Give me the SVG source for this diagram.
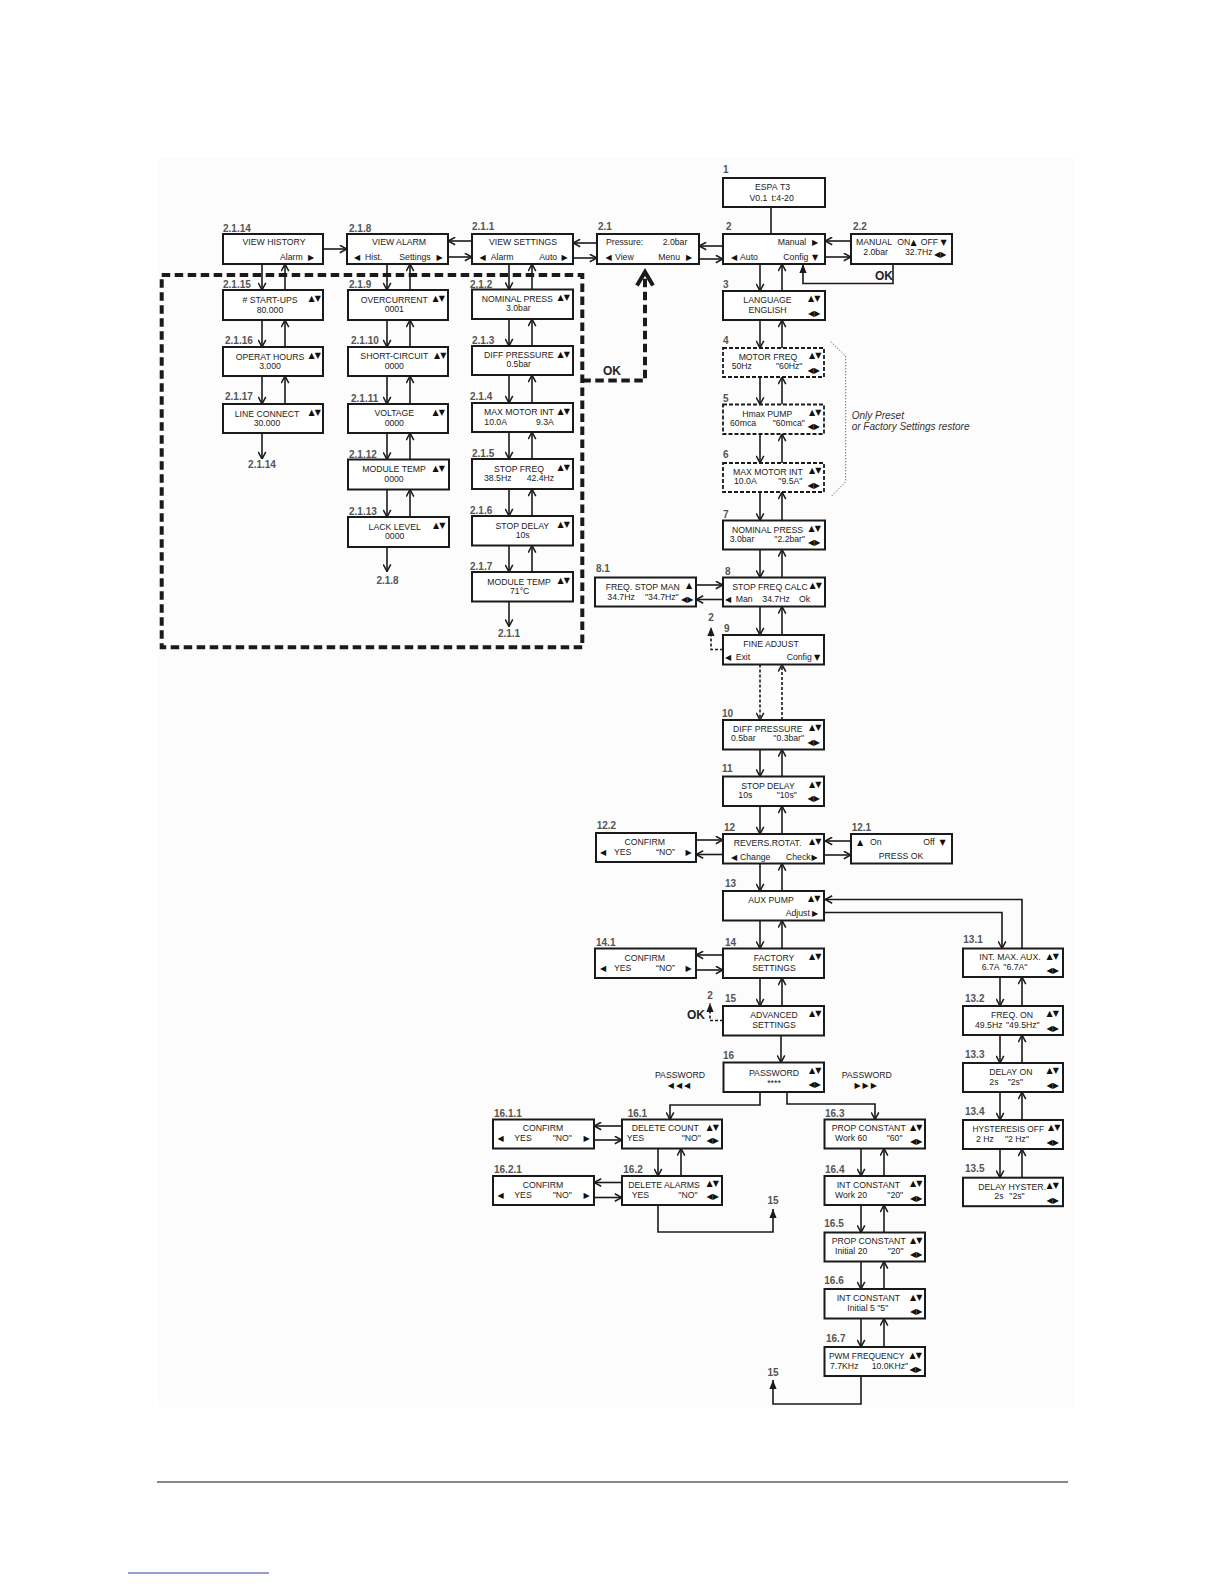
<svg xmlns="http://www.w3.org/2000/svg" width="1224" height="1584" viewBox="0 0 1224 1584">
<defs>
<style>
.t{font-family:"Liberation Sans",Arial,sans-serif;font-size:8.7px;fill:#222}
.m{text-anchor:middle}
.s{font-family:"DejaVu Sans",sans-serif;font-size:8px;fill:#111}
.p{font-family:"DejaVu Sans",sans-serif;font-size:8px;fill:#111}
.lb{font-family:"Liberation Sans",Arial,sans-serif;font-size:10px;font-weight:bold;fill:#555}
.ok{font-family:"Liberation Sans",Arial,sans-serif;font-size:12px;font-weight:bold;fill:#222}
.it{font-family:"Liberation Sans",Arial,sans-serif;font-size:10px;font-style:italic;fill:#333}
.b{fill:#fff;stroke:#1a1a1a;stroke-width:2}
.bd{fill:#fff;stroke:#1a1a1a;stroke-width:1.8;stroke-dasharray:4 2}
.c{fill:none;stroke:#1a1a1a;stroke-width:1.6}
.a{marker-end:url(#arr)}
.f{marker-end:url(#tri)}
.dl{stroke-dasharray:3 2}
.thick{fill:none;stroke:#1a1a1a;stroke-width:4;stroke-dasharray:8.5 4.5}
</style>
<marker id="arr" viewBox="0 0 10 10" refX="9.5" refY="5" markerWidth="9" markerHeight="9" markerUnits="userSpaceOnUse" orient="auto">
<path d="M1.5,0.8 L9.5,5 L1.5,9.2" fill="none" stroke="#1a1a1a" stroke-width="1.7"/>
</marker>
<marker id="tri" viewBox="0 0 10 8" refX="10" refY="4" markerWidth="9" markerHeight="7.2" markerUnits="userSpaceOnUse" orient="auto">
<path d="M0,0 L10,4 L0,8 Z" fill="#1a1a1a"/>
</marker>
</defs>
<rect x="159" y="158" width="915" height="1249" fill="#fcfcfc"/>
<line x1="157" y1="1482" x2="1068" y2="1482" stroke="#111" stroke-width="1.2"/>
<line x1="128" y1="1573" x2="269" y2="1573" stroke="#2a3caa" stroke-width="1.2"/>

<g id="frame">
<rect class="thick" x="161.7" y="275" width="420.6" height="372.3"/>
</g>

<g id="connectors">
<line class="c a" x1="323" y1="249" x2="347" y2="249"/>
<line class="c a" x1="472" y1="241" x2="448" y2="241"/>
<line class="c a" x1="448" y1="257" x2="472" y2="257"/>
<line class="c a" x1="597" y1="243" x2="573" y2="243"/>
<line class="c a" x1="573" y1="258" x2="597" y2="258"/>
<line class="c a" x1="723" y1="246" x2="699" y2="246"/>
<line class="c a" x1="699" y1="259" x2="723" y2="259"/>
<line class="c a" x1="851" y1="241" x2="825" y2="241"/>
<line class="c a" x1="825" y1="257" x2="851" y2="257"/>
<line class="c" x1="771" y1="207" x2="771" y2="234"/>
<polyline class="c f" points="893,264 893,283.5 803,283.5 803,264"/>
<polyline class="thick" points="582.3,380.5 645,380.5 645,272"/>
<polyline fill="none" stroke="#1a1a1a" stroke-width="4" points="637,285.5 645,272 653,285.5"/>

<line class="c a" x1="262" y1="264" x2="262" y2="290"/>
<line class="c a" x1="285" y1="290" x2="285" y2="264"/>
<line class="c a" x1="262" y1="320" x2="262" y2="347"/>
<line class="c a" x1="285" y1="347" x2="285" y2="320"/>
<line class="c a" x1="262" y1="376" x2="262" y2="404"/>
<line class="c a" x1="285" y1="404" x2="285" y2="376"/>
<line class="c a" x1="262" y1="433" x2="262" y2="459"/>

<line class="c a" x1="387" y1="264" x2="387" y2="290"/>
<line class="c a" x1="410" y1="290" x2="410" y2="264"/>
<line class="c a" x1="387" y1="320" x2="387" y2="347"/>
<line class="c a" x1="410" y1="347" x2="410" y2="320"/>
<line class="c a" x1="387" y1="376" x2="387" y2="404"/>
<line class="c a" x1="410" y1="404" x2="410" y2="376"/>
<line class="c a" x1="387" y1="433" x2="387" y2="459.5"/>
<line class="c a" x1="410" y1="459.5" x2="410" y2="433"/>
<line class="c a" x1="387" y1="489.5" x2="387" y2="517"/>
<line class="c a" x1="410" y1="517" x2="410" y2="489.5"/>
<line class="c a" x1="387" y1="547" x2="387" y2="571.5"/>

<line class="c a" x1="509" y1="264" x2="509" y2="289.5"/>
<line class="c a" x1="532" y1="289.5" x2="532" y2="264"/>
<line class="c a" x1="509" y1="319" x2="509" y2="346"/>
<line class="c a" x1="532" y1="346" x2="532" y2="319"/>
<line class="c a" x1="509" y1="375" x2="509" y2="403"/>
<line class="c a" x1="532" y1="403" x2="532" y2="375"/>
<line class="c a" x1="509" y1="432" x2="509" y2="459"/>
<line class="c a" x1="532" y1="459" x2="532" y2="432"/>
<line class="c a" x1="509" y1="489" x2="509" y2="516"/>
<line class="c a" x1="532" y1="516" x2="532" y2="489"/>
<line class="c a" x1="509" y1="545.5" x2="509" y2="572"/>
<line class="c a" x1="532" y1="572" x2="532" y2="545.5"/>
<line class="c a" x1="509" y1="601.5" x2="509" y2="626.5"/>

<line class="c a" x1="760" y1="264" x2="760" y2="291"/>
<line class="c a" x1="782" y1="291" x2="782" y2="264"/>
<line class="c a" x1="760" y1="320" x2="760" y2="348"/>
<line class="c a" x1="782" y1="348" x2="782" y2="320"/>
<line class="c a" x1="760" y1="377" x2="760" y2="404.5"/>
<line class="c a" x1="782" y1="404.5" x2="782" y2="377"/>
<line class="c a" x1="760" y1="434" x2="760" y2="463"/>
<line class="c a" x1="782" y1="463" x2="782" y2="434"/>
<line class="c a" x1="760" y1="492" x2="760" y2="520.5"/>
<line class="c a" x1="782" y1="520.5" x2="782" y2="492"/>
<line class="c a" x1="760" y1="549.5" x2="760" y2="577.5"/>
<line class="c a" x1="782" y1="577.5" x2="782" y2="549.5"/>
<line class="c a" x1="760" y1="606.5" x2="760" y2="635"/>
<line class="c a" x1="782" y1="635" x2="782" y2="606.5"/>
<line class="c a dl" x1="760" y1="664.5" x2="760" y2="720"/>
<line class="c a dl" x1="782" y1="720" x2="782" y2="664.5"/>
<line class="c a" x1="760" y1="749.5" x2="760" y2="776.5"/>
<line class="c a" x1="782" y1="776.5" x2="782" y2="749.5"/>
<line class="c a" x1="760" y1="806" x2="760" y2="834"/>
<line class="c a" x1="782" y1="834" x2="782" y2="806"/>
<line class="c a" x1="760" y1="863.5" x2="760" y2="891"/>
<line class="c a" x1="782" y1="891" x2="782" y2="863.5"/>
<line class="c a" x1="760" y1="920.5" x2="760" y2="948.5"/>
<line class="c a" x1="782" y1="948.5" x2="782" y2="920.5"/>
<line class="c a" x1="760" y1="978" x2="760" y2="1006"/>
<line class="c a" x1="782" y1="1006" x2="782" y2="978"/>
<line class="c a" x1="781" y1="1035.5" x2="781" y2="1062.5"/>

<line class="c a" x1="696" y1="585" x2="723" y2="585"/>
<line class="c a" x1="723" y1="599.5" x2="696" y2="599.5"/>
<polyline class="c f dl" points="723,649.5 711,649.5 711,627"/>
<line class="c a" x1="696" y1="840" x2="723" y2="840"/>
<line class="c a" x1="723" y1="854.5" x2="696" y2="854.5"/>
<line class="c a" x1="851" y1="841" x2="825" y2="841"/>
<line class="c a" x1="825" y1="855" x2="851" y2="855"/>
<line class="c a" x1="723" y1="955" x2="696" y2="955"/>
<line class="c a" x1="696" y1="970" x2="723" y2="970"/>
<polyline class="c f dl" points="723,1020.5 710,1020.5 710,1003"/>

<polyline class="c a" points="1022,948.5 1022,899.5 825,899.5"/>
<polyline class="c a" points="825,912.5 1002,912.5 1002,948.5"/>
<line class="c a" x1="1000" y1="977" x2="1000" y2="1006"/>
<line class="c a" x1="1022" y1="1006" x2="1022" y2="977"/>
<line class="c a" x1="1000" y1="1035" x2="1000" y2="1063"/>
<line class="c a" x1="1022" y1="1063" x2="1022" y2="1035"/>
<line class="c a" x1="1000" y1="1092" x2="1000" y2="1120"/>
<line class="c a" x1="1022" y1="1120" x2="1022" y2="1092"/>
<line class="c a" x1="1000" y1="1149" x2="1000" y2="1177.7"/>
<line class="c a" x1="1022" y1="1177.7" x2="1022" y2="1149"/>

<polyline class="c a" points="760,1092 760,1105 670,1105 670,1119.5"/>
<polyline class="c a" points="787,1092 787,1104 875,1104 875,1119.5"/>
<line class="c a" x1="622" y1="1126" x2="594" y2="1126"/>
<line class="c a" x1="594" y1="1140" x2="622" y2="1140"/>
<line class="c a" x1="622" y1="1182.5" x2="594" y2="1182.5"/>
<line class="c a" x1="594" y1="1197.5" x2="622" y2="1197.5"/>
<line class="c a" x1="658" y1="1148.5" x2="658" y2="1176"/>
<line class="c a" x1="681" y1="1176" x2="681" y2="1148.5"/>
<polyline class="c f" points="658,1205 658,1232 773,1232 773,1209"/>
<line class="c a" x1="861" y1="1148.5" x2="861" y2="1176"/>
<line class="c a" x1="884" y1="1176" x2="884" y2="1148.5"/>
<line class="c a" x1="861" y1="1205" x2="861" y2="1232.5"/>
<line class="c a" x1="884" y1="1232.5" x2="884" y2="1205"/>
<line class="c a" x1="861" y1="1261.5" x2="861" y2="1289"/>
<line class="c a" x1="884" y1="1289" x2="884" y2="1261.5"/>
<line class="c a" x1="861" y1="1318.5" x2="861" y2="1347"/>
<line class="c a" x1="884" y1="1347" x2="884" y2="1318.5"/>
<polyline class="c f" points="861,1376 861,1404 773,1404 773,1380"/>
<polyline fill="none" stroke="#333" stroke-width="1" stroke-dasharray="1 2" points="830.7,341.7 845.7,356 845.7,481.7 831.7,496"/>
</g>

<g id="notes">
<text class="ok" x="875" y="279.5">OK</text>
<text class="ok" x="603" y="375">OK</text>
<text class="ok" x="687" y="1019">OK</text>
<text class="it" x="851.7" y="419.3">Only Preset</text>
<text class="it" x="851.7" y="430">or Factory Settings restore</text>
<text class="lb" x="262" y="467.5" text-anchor="middle">2.1.14</text>
<text class="lb" x="387.5" y="584" text-anchor="middle">2.1.8</text>
<text class="lb" x="509" y="637" text-anchor="middle">2.1.1</text>
<text class="lb" x="711" y="621" text-anchor="middle">2</text>
<text class="lb" x="710" y="999" text-anchor="middle">2</text>
<text class="lb" x="773" y="1204" text-anchor="middle">15</text>
<text class="lb" x="773" y="1375.5" text-anchor="middle">15</text>
<text class="t m" x="680" y="1077.5">PASSWORD</text>
<text class="p m" x="680" y="1088" letter-spacing="2">◀◀◀</text>
<text class="t m" x="866.7" y="1077.5">PASSWORD</text>
<text class="p m" x="866.7" y="1088" letter-spacing="2">▶▶▶</text>
</g>

<g id="n1"><text class="lb" x="723" y="172.5">1</text><rect class="b" x="723" y="178" width="102" height="29"/>
<text class="t" x="755" y="190">ESPA</text><text class="t" x="780" y="190">T3</text>
<text class="t" x="749.5" y="200.5">V0.1</text><text class="t" x="771.5" y="200.5">t:4-20</text></g>

<g id="n2-1-14"><text class="lb" x="223" y="232">2.1.14</text><rect class="b" x="223" y="234" width="100" height="30"/>
<text class="t m" x="274" y="245">VIEW HISTORY</text><text class="t" x="280" y="259.5">Alarm</text><text class="p" x="308" y="259.5">▶</text></g>

<g id="n2-1-8"><text class="lb" x="349" y="232">2.1.8</text><rect class="b" x="347" y="234" width="101" height="30"/>
<text class="t m" x="399" y="245">VIEW ALARM</text><text class="p" x="354" y="259.5">◀</text><text class="t" x="365" y="259.5">Hist.</text><text class="t" x="399.3" y="259.5">Settings</text><text class="p" x="436.5" y="259.5">▶</text></g>

<g id="n2-1-1"><text class="lb" x="472" y="229.5">2.1.1</text><rect class="b" x="472" y="234" width="101" height="30"/>
<text class="t m" x="523" y="245">VIEW SETTINGS</text><text class="p" x="479.5" y="259.5">◀</text><text class="t" x="490.7" y="259.5">Alarm</text><text class="t" x="539.3" y="259.5">Auto</text><text class="p" x="561.5" y="259.5">▶</text></g>

<g id="n2-1"><text class="lb" x="598" y="229.5">2.1</text><rect class="b" x="597" y="234" width="102" height="30"/>
<text class="t" x="606" y="244.5">Pressure:</text><text class="t" x="662.7" y="244.5">2.0bar</text>
<text class="p" x="605.5" y="259.5">◀</text><text class="t" x="615" y="259.5">View</text><text class="t" x="658.3" y="259.5">Menu</text><text class="p" x="686" y="259.5">▶</text></g>

<g id="n2"><text class="lb" x="726" y="229.5">2</text><rect class="b" x="723" y="234" width="102" height="30"/>
<text class="t" x="777.7" y="244.5">Manual</text><text class="p" x="812" y="244.5">▶</text>
<text class="p" x="731" y="259.5">◀</text><text class="t" x="740" y="259.5">Auto</text><text class="t" x="783.3" y="259.5">Config</text><text class="s" x="812" y="259.5">▼</text></g>

<g id="n2-2"><text class="lb" x="853" y="229.5">2.2</text><rect class="b" x="851" y="234" width="101" height="30"/>
<text class="t" x="856" y="244.5">MANUAL</text><text class="t" x="897.3" y="244.5">ON</text><text class="s" x="910.5" y="244.5">▲</text><text class="t" x="920.7" y="244.5">OFF</text><text class="s" x="940.5" y="244.5">▼</text>
<text class="t" x="863.3" y="255">2.0bar</text><text class="t" x="905" y="255">32.7Hz</text><text class="p" x="934" y="256.5">◀▶</text></g>

<g id="n2-1-15"><text class="lb" x="223" y="288">2.1.15</text><rect class="b" x="223" y="290" width="100" height="30"/>
<text class="t m" x="270" y="303">&#35; START-UPS</text><text class="s" x="308.5" y="301">▲▼</text><text class="t m" x="270" y="312.5">80.000</text></g>

<g id="n2-1-16"><text class="lb" x="225" y="344">2.1.16</text><rect class="b" x="223" y="347" width="100" height="29"/>
<text class="t m" x="270" y="359.5">OPERAT HOURS</text><text class="s" x="308.5" y="358">▲▼</text><text class="t m" x="270" y="369">3.000</text></g>

<g id="n2-1-17"><text class="lb" x="225" y="399.5">2.1.17</text><rect class="b" x="223" y="404" width="100" height="29"/>
<text class="t m" x="267" y="416.5">LINE CONNECT</text><text class="s" x="308.5" y="415">▲▼</text><text class="t m" x="267" y="426">30.000</text></g>

<g id="n2-1-9"><text class="lb" x="349" y="288">2.1.9</text><rect class="b" x="348" y="290" width="100" height="30"/>
<text class="t m" x="394.3" y="302.5">OVERCURRENT</text><text class="s" x="432.5" y="301">▲▼</text><text class="t m" x="394.3" y="312">0001</text></g>

<g id="n2-1-10"><text class="lb" x="351" y="344">2.1.10</text><rect class="b" x="348" y="347" width="100" height="29"/>
<text class="t m" x="394.3" y="359">SHORT-CIRCUIT</text><text class="s" x="434" y="358">▲▼</text><text class="t m" x="394.3" y="368.5">0000</text></g>

<g id="n2-1-11"><text class="lb" x="351" y="401.5">2.1.11</text><rect class="b" x="348" y="404" width="100" height="29"/>
<text class="t m" x="394.3" y="416">VOLTAGE</text><text class="s" x="432.5" y="414.5">▲▼</text><text class="t m" x="394.3" y="425.5">0000</text></g>

<g id="n2-1-12"><text class="lb" x="349" y="457.5">2.1.12</text><rect class="b" x="348" y="459.5" width="101" height="30"/>
<text class="t m" x="394" y="472">MODULE TEMP</text><text class="s" x="432.5" y="470.5">▲▼</text><text class="t m" x="394" y="481.5">0000</text></g>

<g id="n2-1-13"><text class="lb" x="349" y="514.5">2.1.13</text><rect class="b" x="348" y="517" width="101" height="30"/>
<text class="t m" x="394.7" y="529.5">LACK LEVEL</text><text class="s" x="433" y="528">▲▼</text><text class="t m" x="394.7" y="539">0000</text></g>

<g id="n2-1-2"><text class="lb" x="470" y="288">2.1.2</text><rect class="b" x="472" y="289.5" width="101" height="29.5"/>
<text class="t m" x="517.3" y="301.5">NOMINAL PRESS</text><text class="s" x="557.5" y="300">▲▼</text><text class="t m" x="518.3" y="310.7">3.0bar</text></g>

<g id="n2-1-3"><text class="lb" x="472" y="344">2.1.3</text><rect class="b" x="472" y="346" width="101" height="29"/>
<text class="t m" x="518.7" y="358">DIFF PRESSURE</text><text class="s" x="557.5" y="356.5">▲▼</text><text class="t m" x="518.7" y="367.3">0.5bar</text></g>

<g id="n2-1-4"><text class="lb" x="470" y="399.5">2.1.4</text><rect class="b" x="472" y="403" width="101" height="29"/>
<text class="t m" x="519" y="415">MAX MOTOR INT</text><text class="s" x="557.5" y="413.5">▲▼</text><text class="t" x="484.3" y="424.5">10.0A</text><text class="t" x="536" y="424.5">9.3A</text></g>

<g id="n2-1-5"><text class="lb" x="472" y="457.3">2.1.5</text><rect class="b" x="472" y="459" width="101" height="30"/>
<text class="t m" x="519" y="471.5">STOP FREQ</text><text class="s" x="557.5" y="470">▲▼</text><text class="t" x="484" y="481">38.5Hz</text><text class="t" x="526.7" y="481">42.4Hz</text></g>

<g id="n2-1-6"><text class="lb" x="470" y="514">2.1.6</text><rect class="b" x="472" y="516" width="101" height="29.5"/>
<text class="t m" x="522.3" y="528.5">STOP DELAY</text><text class="s" x="557.5" y="527">▲▼</text><text class="t m" x="522.7" y="538">10s</text></g>

<g id="n2-1-7"><text class="lb" x="470" y="569.7">2.1.7</text><rect class="b" x="472" y="572" width="101" height="29.5"/>
<text class="t m" x="519" y="584.5">MODULE TEMP</text><text class="s" x="557.5" y="583">▲▼</text><text class="t m" x="519.7" y="594">71°C</text></g>

<g id="n3"><text class="lb" x="723" y="287.7">3</text><rect class="b" x="723" y="291" width="102" height="29"/>
<text class="t m" x="767.5" y="303">LANGUAGE</text><text class="t m" x="767.5" y="312.5">ENGLISH</text><text class="s" x="808" y="301">▲▼</text><text class="p" x="808" y="315.5">◀▶</text></g>

<g id="n4"><text class="lb" x="723" y="344.3">4</text><rect class="bd" x="723" y="348" width="101" height="29"/>
<text class="t m" x="768" y="360">MOTOR FREQ</text><text class="t" x="731.7" y="369">50Hz</text><text class="t" x="776" y="369">"60Hz"</text><text class="s" x="809" y="358">▲▼</text><text class="p" x="807.5" y="372.5">◀▶</text></g>

<g id="n5"><text class="lb" x="723" y="401.7">5</text><rect class="bd" x="723" y="404.5" width="101" height="29.5"/>
<text class="t m" x="767.3" y="416.5">Hmax PUMP</text><text class="t" x="730" y="425.5">60mca</text><text class="t" x="772.7" y="425.5">"60mca"</text><text class="s" x="809" y="414.5">▲▼</text><text class="p" x="807.5" y="429">◀▶</text></g>

<g id="n6"><text class="lb" x="723" y="458.3">6</text><rect class="bd" x="723" y="463" width="101" height="29"/>
<text class="t m" x="768" y="475">MAX MOTOR INT</text><text class="t" x="734" y="484">10.0A</text><text class="t" x="778.3" y="484">"9.5A"</text><text class="s" x="809" y="473">▲▼</text><text class="p" x="807.5" y="487.5">◀▶</text></g>

<g id="n7"><text class="lb" x="723" y="517.5">7</text><rect class="b" x="723" y="520.5" width="102" height="29"/>
<text class="t m" x="767.5" y="532.5">NOMINAL PRESS</text><text class="t" x="729.7" y="541.5">3.0bar</text><text class="t" x="774.3" y="541.5">"2.2bar"</text><text class="s" x="808.5" y="530.5">▲▼</text><text class="p" x="808" y="545">◀▶</text></g>

<g id="n8"><text class="lb" x="725" y="575">8</text><rect class="b" x="723" y="577.5" width="102" height="29"/>
<text class="t m" x="770" y="589.5">STOP FREQ CALC</text><text class="s" x="809.5" y="588">▲▼</text>
<text class="p" x="725" y="601.5">◀</text><text class="t" x="735.7" y="601.5">Man</text><text class="t" x="762.3" y="601.5">34.7Hz</text><text class="t" x="799" y="601.5">Ok</text></g>

<g id="n8-1"><text class="lb" x="596" y="572.3">8.1</text><rect class="b" x="595" y="577.5" width="101" height="29"/>
<text class="t" x="605.7" y="589.5">FREQ. STOP MAN</text><text class="s" x="686" y="588">▲</text>
<text class="t" x="607.3" y="599.5">34.7Hz</text><text class="t" x="645" y="599.5">"34.7Hz"</text><text class="p" x="681" y="602">◀▶</text></g>

<g id="n9"><text class="lb" x="724" y="632.3">9</text><rect class="b" x="723" y="635" width="101" height="29.5"/>
<text class="t m" x="771" y="647">FINE ADJUST</text>
<text class="p" x="725" y="660">◀</text><text class="t" x="735.7" y="660">Exit</text><text class="t" x="786.7" y="660">Config</text><text class="s" x="814" y="660">▼</text></g>

<g id="n10"><text class="lb" x="722" y="717.3">10</text><rect class="b" x="723" y="720" width="101" height="29.5"/>
<text class="t m" x="767.7" y="732">DIFF PRESSURE</text><text class="t" x="731" y="741">0.5bar</text><text class="t" x="773.3" y="741">"0.3bar"</text><text class="s" x="809" y="730">▲▼</text><text class="p" x="807.5" y="744.5">◀▶</text></g>

<g id="n11"><text class="lb" x="722" y="772.3">11</text><rect class="b" x="723" y="776.5" width="101" height="29.5"/>
<text class="t m" x="768" y="788.5">STOP DELAY</text><text class="t" x="738.3" y="797.5">10s</text><text class="t" x="776.7" y="797.5">"10s"</text><text class="s" x="809" y="786.5">▲▼</text><text class="p" x="807.5" y="801">◀▶</text></g>

<g id="n12"><text class="lb" x="724" y="831.3">12</text><rect class="b" x="723" y="834" width="101" height="29.5"/>
<text class="t m" x="767.5" y="846">REVERS.ROTAT.</text><text class="s" x="809" y="844">▲▼</text>
<text class="p" x="731" y="859.5">◀</text><text class="t" x="740" y="859.5">Change</text><text class="t" x="786" y="859.5">Check</text><text class="p" x="811.5" y="859.5">▶</text></g>

<g id="n12-2"><text class="lb" x="596.7" y="829">12.2</text><rect class="b" x="596" y="833" width="100" height="29"/>
<text class="t m" x="644.7" y="845">CONFIRM</text><text class="p" x="600" y="855">◀</text><text class="t" x="614" y="855">YES</text><text class="t" x="656" y="855">“NO”</text><text class="p" x="685.5" y="855">▶</text></g>

<g id="n12-1"><text class="lb" x="851.7" y="830.7">12.1</text><rect class="b" x="851" y="834" width="101" height="29.5"/>
<text class="s" x="857" y="845">▲</text><text class="t" x="870" y="845">On</text><text class="t" x="923.3" y="845">Off</text><text class="s" x="939.5" y="845">▼</text>
<text class="t m" x="901" y="859">PRESS OK</text></g>

<g id="n13"><text class="lb" x="725" y="887.3">13</text><rect class="b" x="723" y="891" width="101" height="29.5"/>
<text class="t m" x="771" y="903">AUX PUMP</text><text class="s" x="808" y="901">▲▼</text>
<text class="t" x="785.7" y="915.5">Adjust</text><text class="p" x="812" y="915.5">▶</text></g>

<g id="n14"><text class="lb" x="725" y="945.7">14</text><rect class="b" x="723" y="948.5" width="101" height="29.5"/>
<text class="t m" x="774" y="961">FACTORY</text><text class="t m" x="774" y="971">SETTINGS</text><text class="s" x="809" y="958.5">▲▼</text></g>

<g id="n14-1"><text class="lb" x="596" y="945.7">14.1</text><rect class="b" x="595" y="948.5" width="101" height="29.5"/>
<text class="t m" x="644.7" y="960.5">CONFIRM</text><text class="p" x="600" y="970.5">◀</text><text class="t" x="614" y="970.5">YES</text><text class="t" x="656" y="970.5">“NO”</text><text class="p" x="685.5" y="970.5">▶</text></g>

<g id="n15"><text class="lb" x="725" y="1002.3">15</text><rect class="b" x="723" y="1006" width="101" height="29.5"/>
<text class="t m" x="774" y="1018">ADVANCED</text><text class="t m" x="774" y="1027.5">SETTINGS</text><text class="s" x="809" y="1016">▲▼</text></g>

<g id="n16"><text class="lb" x="723" y="1059">16</text><rect class="b" x="723.5" y="1062.5" width="100.5" height="29.5"/>
<text class="t m" x="774" y="1076">PASSWORD</text><text class="t m" x="774" y="1086">****</text><text class="s" x="809" y="1073">▲▼</text><text class="p" x="808.5" y="1086.5">◀▶</text></g>

<g id="n13-1"><text class="lb" x="963.3" y="943.3">13.1</text><rect class="b" x="963" y="948.5" width="100" height="28.5"/>
<text class="t" x="979.3" y="960">INT. MAX. AUX.</text><text class="s" x="1046.5" y="958.5">▲▼</text><text class="t" x="981.7" y="969.5">6.7A</text><text class="t" x="1003.3" y="969.5">"6.7A"</text><text class="p" x="1046.5" y="973">◀▶</text></g>

<g id="n13-2"><text class="lb" x="965" y="1001.7">13.2</text><rect class="b" x="963" y="1006" width="100" height="29"/>
<text class="t" x="991" y="1018">FREQ. ON</text><text class="s" x="1046.5" y="1016">▲▼</text><text class="t" x="975" y="1027.5">49.5Hz</text><text class="t" x="1006" y="1027.5">"49.5Hz"</text><text class="p" x="1046.5" y="1031">◀▶</text></g>

<g id="n13-3"><text class="lb" x="965" y="1058.3">13.3</text><rect class="b" x="963" y="1063" width="100" height="29"/>
<text class="t" x="989.3" y="1075">DELAY ON</text><text class="s" x="1046.5" y="1073">▲▼</text><text class="t" x="989.3" y="1084.5">2s</text><text class="t" x="1007.7" y="1084.5">"2s"</text><text class="p" x="1046.5" y="1088">◀▶</text></g>

<g id="n13-4"><text class="lb" x="965" y="1115">13.4</text><rect class="b" x="963" y="1120" width="100" height="29"/>
<text class="t" x="972.5" y="1132" style="font-size:8.3px">HYSTERESIS OFF</text><text class="s" x="1048" y="1130">▲▼</text><text class="t" x="976" y="1141.5">2 Hz</text><text class="t" x="1005" y="1141.5">"2 Hz"</text><text class="p" x="1046.5" y="1145">◀▶</text></g>

<g id="n13-5"><text class="lb" x="965" y="1171.7">13.5</text><rect class="b" x="963" y="1177.7" width="100" height="28.5"/>
<text class="t" x="978.3" y="1189.5">DELAY HYSTER.</text><text class="s" x="1046.5" y="1187.5">▲▼</text><text class="t" x="994.3" y="1199">2s</text><text class="t" x="1009.3" y="1199">"2s"</text><text class="p" x="1046.5" y="1202.5">◀▶</text></g>

<g id="n16-1-1"><text class="lb" x="494" y="1116.5">16.1.1</text><rect class="b" x="493" y="1119.5" width="101" height="29"/>
<text class="t m" x="543" y="1131">CONFIRM</text><text class="p" x="497.5" y="1141">◀</text><text class="t" x="514.3" y="1141">YES</text><text class="t" x="552.7" y="1141">"NO"</text><text class="p" x="583.5" y="1141">▶</text></g>

<g id="n16-1"><text class="lb" x="627.7" y="1116.5">16.1</text><rect class="b" x="622" y="1119.5" width="100" height="29"/>
<text class="t" x="631.7" y="1131">DELETE COUNT</text><text class="s" x="706.5" y="1129.5">▲▼</text><text class="t" x="626.7" y="1141">YES</text><text class="t" x="681.7" y="1141">"NO"</text><text class="p" x="706.5" y="1142.5">◀▶</text></g>

<g id="n16-2-1"><text class="lb" x="494" y="1172.7">16.2.1</text><rect class="b" x="493" y="1176" width="101" height="29"/>
<text class="t m" x="543" y="1187.5">CONFIRM</text><text class="p" x="497.5" y="1197.5">◀</text><text class="t" x="514.3" y="1197.5">YES</text><text class="t" x="552.7" y="1197.5">"NO"</text><text class="p" x="583.5" y="1197.5">▶</text></g>

<g id="n16-2"><text class="lb" x="623.3" y="1172.7">16.2</text><rect class="b" x="622" y="1176" width="100" height="29"/>
<text class="t" x="628.3" y="1187.5">DELETE ALARMS</text><text class="s" x="706.5" y="1186">▲▼</text><text class="t" x="631.7" y="1197.5">YES</text><text class="t" x="678.3" y="1197.5">"NO"</text><text class="p" x="706.5" y="1199">◀▶</text></g>

<g id="n16-3"><text class="lb" x="825" y="1116.5">16.3</text><rect class="b" x="824.5" y="1119.5" width="100.5" height="29"/>
<text class="t" x="831.7" y="1131">PROP CONSTANT</text><text class="s" x="910" y="1129.5">▲▼</text><text class="t" x="835" y="1141">Work 60</text><text class="t" x="886.7" y="1141">"60"</text><text class="p" x="910" y="1144">◀▶</text></g>

<g id="n16-4"><text class="lb" x="825" y="1172.7">16.4</text><rect class="b" x="824.5" y="1176" width="100.5" height="29"/>
<text class="t" x="836.7" y="1187.5">INT CONSTANT</text><text class="s" x="910" y="1186">▲▼</text><text class="t" x="835" y="1197.5">Work 20</text><text class="t" x="887.3" y="1197.5">"20"</text><text class="p" x="910" y="1200.5">◀▶</text></g>

<g id="n16-5"><text class="lb" x="824.3" y="1226.7">16.5</text><rect class="b" x="824.5" y="1232.5" width="100.5" height="29"/>
<text class="t" x="831.7" y="1244">PROP CONSTANT</text><text class="s" x="910" y="1242.5">▲▼</text><text class="t" x="835" y="1254">Initial 20</text><text class="t" x="887.7" y="1254">"20"</text><text class="p" x="910" y="1257">◀▶</text></g>

<g id="n16-6"><text class="lb" x="824.3" y="1284">16.6</text><rect class="b" x="824.5" y="1289" width="100.5" height="29.5"/>
<text class="t" x="836.7" y="1301">INT CONSTANT</text><text class="s" x="910" y="1299.5">▲▼</text><text class="t m" x="867.8" y="1310.5">Initial 5 "5"</text><text class="p" x="910" y="1314">◀▶</text></g>

<g id="n16-7"><text class="lb" x="826" y="1342.3">16.7</text><rect class="b" x="824.5" y="1347" width="100.5" height="29"/>
<text class="t" x="829" y="1359" style="font-size:8.4px">PWM FREQUENCY</text><text class="s" x="909.5" y="1357.5">▲▼</text><text class="t" x="830" y="1369">7.7KHz</text><text class="t" x="871.7" y="1369">10.0KHz"</text><text class="p" x="909.5" y="1372">◀▶</text></g>
</svg>
